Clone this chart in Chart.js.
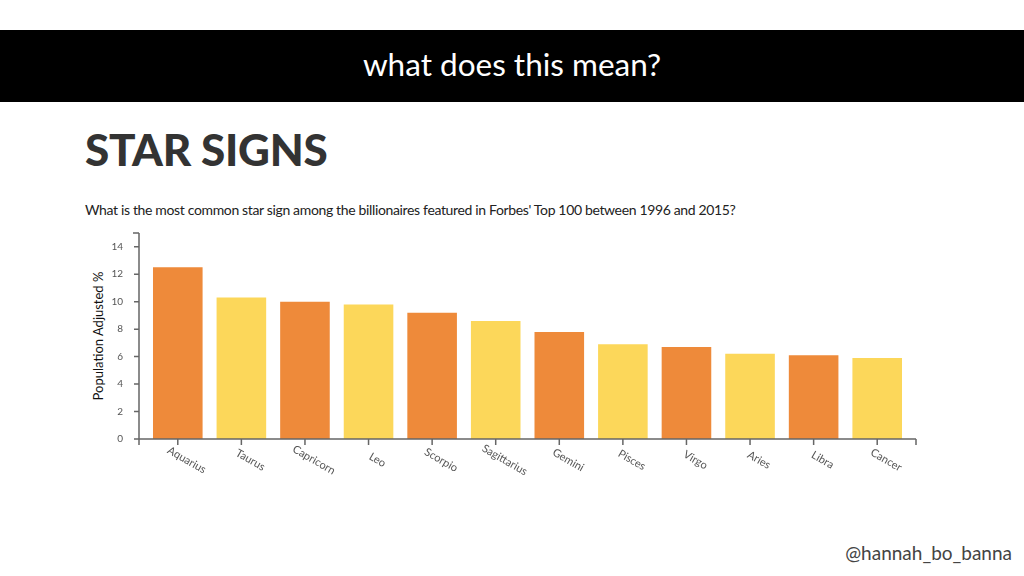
<!DOCTYPE html>
<html>
<head>
<meta charset="utf-8">
<script src="https://cdn.jsdelivr.net/npm/chart.js@4.4.0/dist/chart.umd.min.js"></script>
<style>
  html, body { margin:0; padding:0; background:#fff; width:1024px; height:576px; overflow:hidden; }
  body { position:relative; font-family: Lato, "Open Sans", sans-serif; }
  #banner { position:absolute; left:0; top:30px; width:1024px; height:72px; background:#000; }
  #banner span { position:absolute; left:0; width:1024px; top:15px; text-align:center; color:#fff; font-size:31.5px; }
  #title { position:absolute; left:85px; top:123px; font-size:44px; font-weight:900; color:#333; letter-spacing:-0.3px; }
  #subtitle { position:absolute; left:85px; top:201px; font-size:14px; color:#222; letter-spacing:-0.35px; }
  #ytitle { position:absolute; left:98px; top:336px; transform:translate(-50%,-50%) rotate(-90deg); font-size:13px; color:#111; white-space:nowrap; }
  #handle { position:absolute; right:12px; top:541px; font-size:19px; color:#444; }
  #c { position:absolute; left:0; top:0; }
</style>
</head>
<body>
<div id="banner"><span>what does this mean?</span></div>
<div id="title">STAR SIGNS</div>
<div id="subtitle">What is the most common star sign among the billionaires featured in Forbes' Top 100 between 1996 and 2015?</div>
<div id="ytitle">Population Adjusted %</div>
<div id="handle">@hannah_bo_banna</div>
<canvas id="c" width="1024" height="576"></canvas>
<script>
const categories = ["Aquarius","Taurus","Capricorn","Leo","Scorpio","Sagittarius","Gemini","Pisces","Virgo","Aries","Libra","Cancer"];
const values = [12.5, 10.3, 10.0, 9.8, 9.2, 8.6, 7.8, 6.9, 6.7, 6.2, 6.1, 5.9];
const yTicks = [0, 2, 4, 6, 8, 10, 12, 14];
const yMax = 15;

const ORANGE = '#EE8A3A', YELLOW = '#FCD75A', AXIS = '#666';
const barColors = categories.map((_, i) => i % 2 === 0 ? ORANGE : YELLOW);
const AXIS_GAP = 7;   // d3-style outer padding between axis line and first/last band

const axisPlugin = {
  id: 'd3Axes',
  afterDraw(chart) {
    const ctx = chart.ctx, xs = chart.scales.x, ys = chart.scales.y, ca = chart.chartArea;
    const left = ca.left - AXIS_GAP, right = ca.right + AXIS_GAP;
    ctx.save();
    ctx.strokeStyle = AXIS; ctx.lineWidth = 1.5;
    ctx.beginPath();
    // y axis line + ticks
    ctx.moveTo(left, ys.getPixelForValue(yMax)); ctx.lineTo(left, ca.bottom);
    ctx.moveTo(left - 6, ys.getPixelForValue(yMax)); ctx.lineTo(left, ys.getPixelForValue(yMax));
    yTicks.forEach(v => { const y = ys.getPixelForValue(v); ctx.moveTo(left - 5, y); ctx.lineTo(left, y); });
    // x axis line + outer ticks + category ticks
    ctx.moveTo(left, ca.bottom); ctx.lineTo(right, ca.bottom);
    ctx.moveTo(left, ca.bottom); ctx.lineTo(left, ca.bottom + 6);
    ctx.moveTo(right, ca.bottom); ctx.lineTo(right, ca.bottom + 6);
    chart.data.labels.forEach((_, i) => { const x = xs.getPixelForTick(i); ctx.moveTo(x, ca.bottom); ctx.lineTo(x, ca.bottom + 6); });
    ctx.stroke();
    // rotated category labels
    ctx.fillStyle = '#555';
    ctx.font = '11px Lato, "Open Sans", sans-serif';
    ctx.textAlign = 'center'; ctx.textBaseline = 'middle';
    chart.data.labels.forEach((lab, i) => {
      const x = xs.getPixelForTick(i) + 9;
      const y = ca.bottom + 21;
      ctx.save();
      ctx.translate(x, y);
      ctx.rotate(Math.PI / 6);
      ctx.fillText(lab, 0, 0);
      ctx.restore();
    });
    ctx.restore();
  }
};

new Chart(document.getElementById('c'), {
  type: 'bar',
  data: {
    labels: categories,
    datasets: [{ data: values, backgroundColor: barColors, borderWidth: 0, barPercentage: 0.78, categoryPercentage: 1.0 }]
  },
  options: {
    responsive: false,
    animation: false,
    layout: { padding: { left: 99, right: 115, top: 233, bottom: 97 } },
    plugins: { legend: { display: false }, tooltip: { enabled: false } },
    scales: {
      x: {
        grid: { display: false },
        border: { display: false },
        ticks: { color: 'rgba(0,0,0,0)', maxRotation: 0, autoSkip: false },
        afterFit(s) { s.height = 40; }
      },
      y: {
        min: 0, max: yMax,
        afterBuildTicks(s) { s.ticks = yTicks.map(v => ({ value: v })); },
        grid: { display: false },
        border: { display: false },
        ticks: { color: '#555', font: { size: 10, family: 'Lato' }, padding: 15 },
        afterFit(s) { s.width = 47; }
      }
    }
  },
  plugins: [axisPlugin]
});
</script>
</body>
</html>
